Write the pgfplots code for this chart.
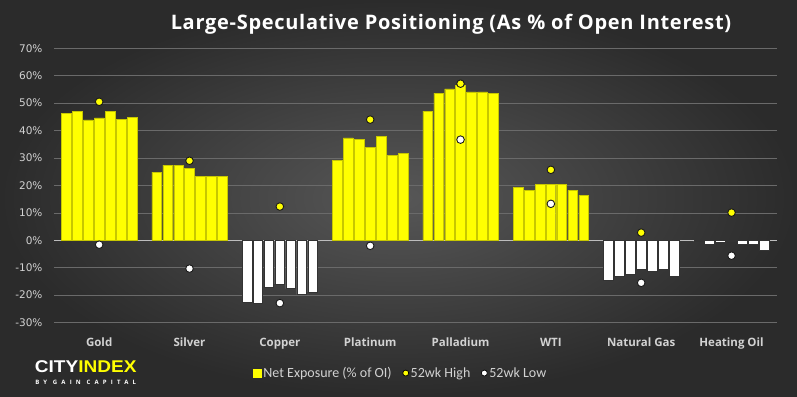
\documentclass[border=0pt]{standalone}
\usepackage{pgfplots}
\pgfplotsset{compat=1.18}
\usepackage{pgfplotstable}
\usepackage{fontspec}
\setmainfont{Open Sans}
\newfontfamily\titlefont[LetterSpace=3.5]{Open Sans}
\newfontfamily\legfont{Carlito}
\newfontfamily\tickfont{DejaVu Sans}
\newfontfamily\logofont{Liberation Sans}
\newfontfamily\spacedfont[LetterSpace=70]{Open Sans}
\definecolor{bgin}{HTML}{575757}
\definecolor{bgout}{HTML}{2B2B2B}
\definecolor{gridc}{HTML}{6A6A6A}
\definecolor{zeroc}{HTML}{BDBDBD}
\definecolor{labc}{HTML}{D2D2D2}
\definecolor{yel}{HTML}{FFFF00}
\pgfplotstableread{
cat w1 w2 w3 w4 w5 w6 w7 hi lo
0 46.4 47.1 43.9 44.6 47.1 44.2 44.8 50.5 -1.6
1 24.9 27.4 27.4 26.2 23.4 23.4 23.4 29.0 -10.3
2 -22.6 -22.9 -17.3 -15.9 -17.6 -19.7 -18.8 12.3 -22.9
3 29.2 37.3 36.9 34.0 38.0 31.0 31.7 44.0 -2.0
4 47.1 53.7 55.2 56.6 54.1 54.1 53.7 57.1 36.7
5 19.3 18.1 20.5 20.5 20.5 18.2 16.4 25.7 13.3
6 -14.4 -13.3 -12.3 -10.5 -11.2 -10.5 -13.3 2.8 -15.5
7 -0.5 -1.5 -0.9 -0.5 -1.5 -1.5 -3.8 10.1 -5.6
}\data
\pgfplotsset{
  posbar/.style={ybar, bar width=9.7pt, fill=yel, draw=yel!78!black, line width=0.4pt, forget plot},
  negbar/.style={ybar, bar width=9.7pt, fill=white, draw=black!80, line width=0.6pt, forget plot},
}
\begin{document}
\begin{tikzpicture}
\useasboundingbox (0,0) rectangle (797pt,396pt);
\shade[inner color=bgin, outer color=bgout] (0,0) rectangle (797pt,396pt);
\node[text=white, font=\titlefont\bfseries\fontsize{20}{23}\selectfont] at (451pt,371.5pt) {Large-Speculative Positioning (As \% of Open Interest)};
\node[font=\logofont\bfseries\fontsize{17}{18}\selectfont, inner sep=0pt] at (85.7pt,29pt) {\scalebox{1.12}[1]{\textcolor{white}{CITY}\textcolor{yel}{INDEX}}};
\node[font=\spacedfont\bfseries\fontsize{6}{7}\selectfont, text=white, inner sep=0pt] at (85.7pt,14pt) {BY GAIN CAPITAL};
\begin{axis}[
  at={(54pt,73.4pt)}, anchor=south west,
  scale only axis, width=722.7pt, height=274.3pt,
  xmin=-0.5, xmax=7.5, ymin=-30, ymax=70,
  axis line style={draw=none},
  tick style={draw=none},
  ymajorgrids, grid style={color=gridc, line width=0.6pt},
  ytick={-30,-20,...,70},
  yticklabels={-30\%,-20\%,-10\%,0\%,10\%,20\%,30\%,40\%,50\%,60\%,70\%},
  yticklabel style={font=\tickfont\fontsize{10.5}{12}\selectfont, text=labc, xshift=-8pt},
  xtick={0,...,7},
  xticklabels={Gold,Silver,Copper,Platinum,Palladium,WTI,Natural Gas,Heating Oil},
  xticklabel style={font=\bfseries\fontsize{11.5}{13}\selectfont, text=labc, yshift=-12pt},
  extra y ticks={0}, extra y tick labels={},
  extra y tick style={grid style={color=zeroc, line width=0.8pt}},
  legend columns=3,
  legend style={draw=none, fill=none, text=labc, font=\legfont\fontsize{14}{16}\selectfont,
    at={(0.48,-0.184)}, anchor=center,
    /tikz/every even column/.append style={column sep=9pt}},
  legend cell align=left,
]
\addplot[posbar, bar shift=-32.85pt] table[x=cat, y=w1, restrict y to domain=0:100]{\data};
\addplot[negbar, bar shift=-32.85pt] table[x=cat, y=w1, restrict y to domain=-100:0]{\data};
\addplot[posbar, bar shift=-21.9pt] table[x=cat, y=w2, restrict y to domain=0:100]{\data};
\addplot[negbar, bar shift=-21.9pt] table[x=cat, y=w2, restrict y to domain=-100:0]{\data};
\addplot[posbar, bar shift=-10.95pt] table[x=cat, y=w3, restrict y to domain=0:100]{\data};
\addplot[negbar, bar shift=-10.95pt] table[x=cat, y=w3, restrict y to domain=-100:0]{\data};
\addplot[posbar, bar shift=0pt] table[x=cat, y=w4, restrict y to domain=0:100]{\data};
\addplot[negbar, bar shift=0pt] table[x=cat, y=w4, restrict y to domain=-100:0]{\data};
\addplot[posbar, bar shift=10.95pt] table[x=cat, y=w5, restrict y to domain=0:100]{\data};
\addplot[negbar, bar shift=10.95pt] table[x=cat, y=w5, restrict y to domain=-100:0]{\data};
\addplot[posbar, bar shift=21.9pt] table[x=cat, y=w6, restrict y to domain=0:100]{\data};
\addplot[negbar, bar shift=21.9pt] table[x=cat, y=w6, restrict y to domain=-100:0]{\data};
\addplot[posbar, bar shift=32.85pt] table[x=cat, y=w7, restrict y to domain=0:100]{\data};
\addplot[negbar, bar shift=32.85pt] table[x=cat, y=w7, restrict y to domain=-100:0]{\data};
\addplot[only marks, mark=*, mark size=3.8pt, mark options={fill=yel, draw=black!90, line width=0.9pt}, forget plot] table[x=cat, y=hi]{\data};
\addplot[only marks, mark=*, mark size=3.8pt, mark options={fill=white, draw=black!90, line width=0.9pt}, forget plot] table[x=cat, y=lo]{\data};
\addlegendimage{legend image code/.code={\fill[yel] (0pt,-3.8pt) rectangle (7.5pt,3.8pt);}}
\addlegendentry{Net Exposure (\% of OI)}
\addlegendimage{only marks, mark=*, mark size=3pt, mark options={fill=yel, draw=black, line width=0.7pt}}
\addlegendentry{52wk High}
\addlegendimage{only marks, mark=*, mark size=3pt, mark options={fill=white, draw=black, line width=0.7pt}}
\addlegendentry{52wk Low}
\end{axis}
\end{tikzpicture}
\end{document}
